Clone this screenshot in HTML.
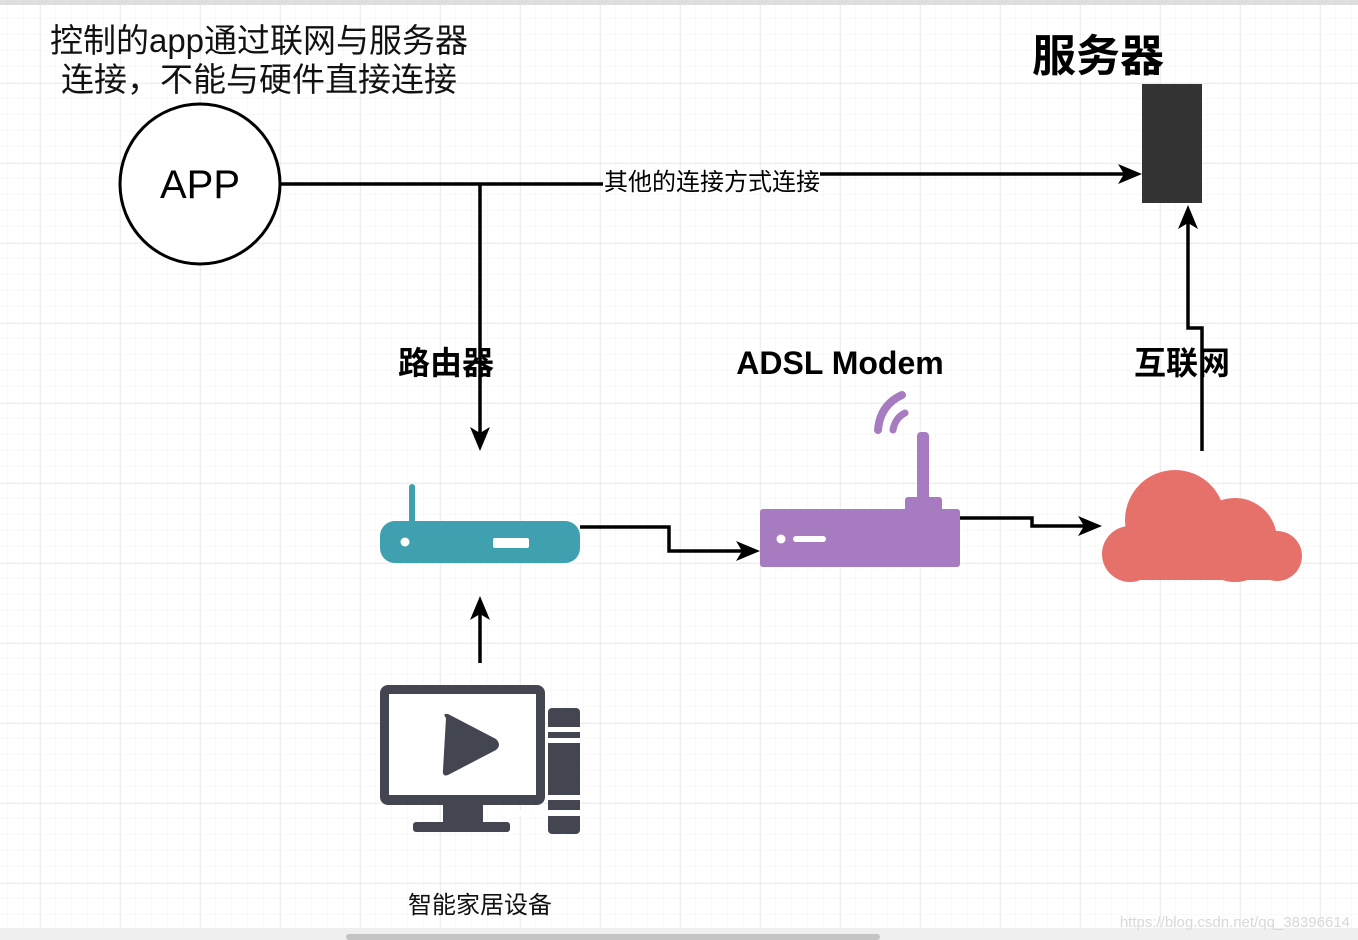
<!DOCTYPE html>
<html><head><meta charset="utf-8"><style>
html,body{margin:0;padding:0;width:1358px;height:940px;overflow:hidden;background:#fff;}
svg{display:block}
text{font-family:"Liberation Sans","Noto Sans CJK SC",sans-serif;}
</style></head><body>
<svg width="1358" height="940" viewBox="0 0 1358 940" xmlns="http://www.w3.org/2000/svg">
<defs>
<pattern id="minor" width="16" height="16" patternUnits="userSpaceOnUse" x="8" y="3">
<path d="M16 0V16M0 16H16" fill="none" stroke="#f3f3f3" stroke-width="1"/>
</pattern>
<pattern id="major" width="80" height="80" patternUnits="userSpaceOnUse" x="40" y="3">
<path d="M0 0V80M0 0H80" fill="none" stroke="#dcdcdc" stroke-width="1"/>
</pattern>
</defs>
<rect width="1358" height="940" fill="url(#minor)"/>
<rect width="1358" height="940" fill="url(#major)"/>
<rect x="0" y="0" width="1358" height="5" fill="#dedede"/>
<rect x="0" y="928" width="1358" height="12" fill="#efefef"/>
<rect x="346" y="934" width="534" height="6" rx="3" fill="#c4c4c4"/>
<text x="1350" y="927" font-size="15" fill="#d8d8d8" text-anchor="end">https://blog.csdn.net/qq_38396614</text>

<text x="259" y="52" font-size="33" text-anchor="middle" fill="#111">控制的app通过联网与服务器</text>
<text x="259" y="91" font-size="33" text-anchor="middle" fill="#111">连接，不能与硬件直接连接</text>

<circle cx="200" cy="184" r="80" fill="#fff" stroke="#000" stroke-width="3"/>
<text x="200" y="198" font-size="40" text-anchor="middle" fill="#000">APP</text>

<text x="1098" y="71" font-size="44" font-weight="bold" text-anchor="middle" fill="#000">服务器</text>
<rect x="1142" y="84" width="60" height="119" fill="#333"/>

<g stroke="#000" stroke-width="3.5" fill="none">
<path d="M281 184H603"/>
<path d="M820 174H1130"/>
<path d="M480 184V440"/>
<path d="M480 663V606"/>
<path d="M580 527H669V551H748"/>
<path d="M960 518H1032V526H1090"/>
<path d="M1202 451V328H1188V216"/>
</g>
<g fill="#000">
<path d="M1142 174L1118 164L1124 174L1118 184Z"/>
<path d="M480 451L470 427L480 433L490 427Z"/>
<path d="M480 596L470 620L480 614L490 620Z"/>
<path d="M760 551L736 541L742 551L736 561Z"/>
<path d="M1102 526L1078 516L1084 526L1078 536Z"/>
<path d="M1188 205L1178 229L1188 223L1198 229Z"/>
</g>
<text x="712" y="190" font-size="24" text-anchor="middle" fill="#000">其他的连接方式连接</text>

<text x="446" y="374" font-size="32" font-weight="bold" text-anchor="middle" fill="#000">路由器</text>
<text x="840" y="374" font-size="32" font-weight="bold" text-anchor="middle" fill="#000">ADSL Modem</text>
<text x="1182" y="374" font-size="32" font-weight="bold" text-anchor="middle" fill="#000">互联网</text>

<rect x="409" y="484" width="6" height="40" rx="3" fill="#3fa0b0"/>
<rect x="380" y="521" width="200" height="42" rx="15" fill="#3fa0b0"/>
<circle cx="405" cy="542" r="4.5" fill="#fff"/>
<rect x="493" y="538" width="36" height="10" rx="2" fill="#fff"/>

<rect x="917" y="432" width="12" height="70" rx="4" fill="#a67bbf"/>
<rect x="905" y="497" width="37" height="16" rx="3" fill="#a67bbf"/>
<rect x="760" y="509" width="200" height="58" rx="3" fill="#a67bbf"/>
<circle cx="781" cy="539" r="4.5" fill="#fff"/>
<rect x="793" y="536" width="33" height="6" rx="3" fill="#fff"/>
<path d="M878 430 Q880 405 902 395" stroke="#a67bbf" stroke-width="8" fill="none" stroke-linecap="round"/>
<path d="M893 430 Q895 418 905 413" stroke="#a67bbf" stroke-width="7" fill="none" stroke-linecap="round"/>

<g fill="#e6716a">
<circle cx="1175" cy="520" r="50"/>
<circle cx="1235" cy="540" r="42"/>
<circle cx="1277" cy="556" r="25"/>
<circle cx="1130" cy="554" r="28"/>
<rect x="1130" y="545" width="147" height="35" />
</g>

<g fill="#434650">
<rect x="548" y="708" width="32" height="126" rx="4"/>
<rect x="380" y="685" width="165" height="120" rx="8"/>
<rect x="443" y="800" width="40" height="24"/>
<rect x="413" y="822" width="97" height="10" rx="3"/>
</g>
<rect x="389" y="694" width="147" height="101" fill="#fff"/>
<rect x="548" y="727" width="32" height="5" fill="#fff"/>
<rect x="548" y="738" width="32" height="5" fill="#fff"/>
<rect x="548" y="795" width="32" height="5" fill="#fff"/>
<rect x="497" y="810" width="83" height="6" fill="#fff"/>
<path d="M446 718Q442 713 448 714L496 739Q502 745 496 750L448 775Q442 777 443 770Z" fill="#434650"/>
<text x="480" y="913" font-size="24" text-anchor="middle" fill="#111">智能家居设备</text>
</svg>
</body></html>
